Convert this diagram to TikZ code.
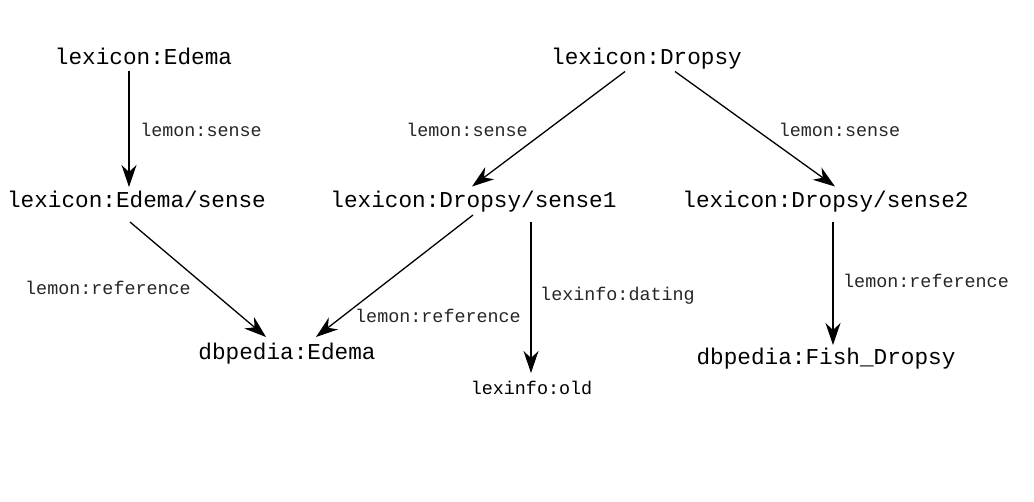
\documentclass[tikz,border=0pt]{standalone}
\usepackage{fontspec}
\setmonofont{Liberation Mono}
\usetikzlibrary{arrows.meta,calc}
\begin{document}
\begin{tikzpicture}[x=1pt,y=-1pt,
  term/.style={inner sep=0pt,outer sep=0pt,anchor=base,font=\ttfamily\fontsize{22.7}{24}\selectfont},
  small/.style={inner sep=0pt,outer sep=0pt,anchor=base,font=\ttfamily\fontsize{18.4}{20}\selectfont},
  lbl/.style={inner sep=0pt,outer sep=0pt,anchor=base,font=\ttfamily\fontsize{18.4}{20}\selectfont,text=black!85},
  arr/.style={line width=1.3pt,-{Stealth[length=22pt,width=15pt,inset=7pt]}}]
\useasboundingbox (0,0) rectangle (1034,502);
% nodes
\node[term] (e1) at (143.5,65) {lexicon:Edema};
\node[term] (d1) at (646.5,65) {lexicon:Dropsy};
\node[term] (e2) at (136.5,208) {lexicon:Edema/sense};
\node[term] (s1) at (473.5,208) {lexicon:Dropsy/sense1};
\node[term] (s2) at (825.5,208) {lexicon:Dropsy/sense2};
\node[term] (de) at (287,360) {dbpedia:Edema};
\node[term] (fd) at (826,365) {dbpedia:Fish\_Dropsy};
\node[small] (old) at (531.5,395) {lexinfo:old};
% labels
\node[lbl] (l1) at (201,137) {lemon:sense};
\node[lbl] (l2) at (467,137) {lemon:sense};
\node[lbl] (l3) at (839.5,137) {lemon:sense};
\node[lbl] (l4) at (108,295) {lemon:reference};
\node[lbl] (l5) at (438,323) {lemon:reference};
\node[lbl] (l6) at (617.5,301) {lexinfo:dating};
\node[lbl] (l7) at (926,288) {lemon:reference};
% arrows
\draw[arr] ($(e1.base)+(-14.5,6)$) -- ($(e2.base)+(-7.5,-21)$);
\draw[arr] ($(d1.base)+(-21.5,6.5)$) -- ($(s1.base)+(-1.5,-21.5)$);
\draw[arr] ($(d1.base)+(28.5,6.5)$) -- ($(s2.base)+(9.5,-21.5)$);
\draw[arr] ($(e2.base)+(-6.5,14)$) -- ($(de.base)+(-21,-23)$);
\draw[arr] ($(s1.base)+(-0.5,7)$) -- ($(de.base)+(29,-23)$);
\draw[arr] ($(s1.base)+(57.5,14)$) -- ($(old.base)+(-0.5,-22)$);
\draw[arr] ($(s2.base)+(7.5,14)$) -- ($(fd.base)+(7,-20)$);
\end{tikzpicture}
\end{document}
